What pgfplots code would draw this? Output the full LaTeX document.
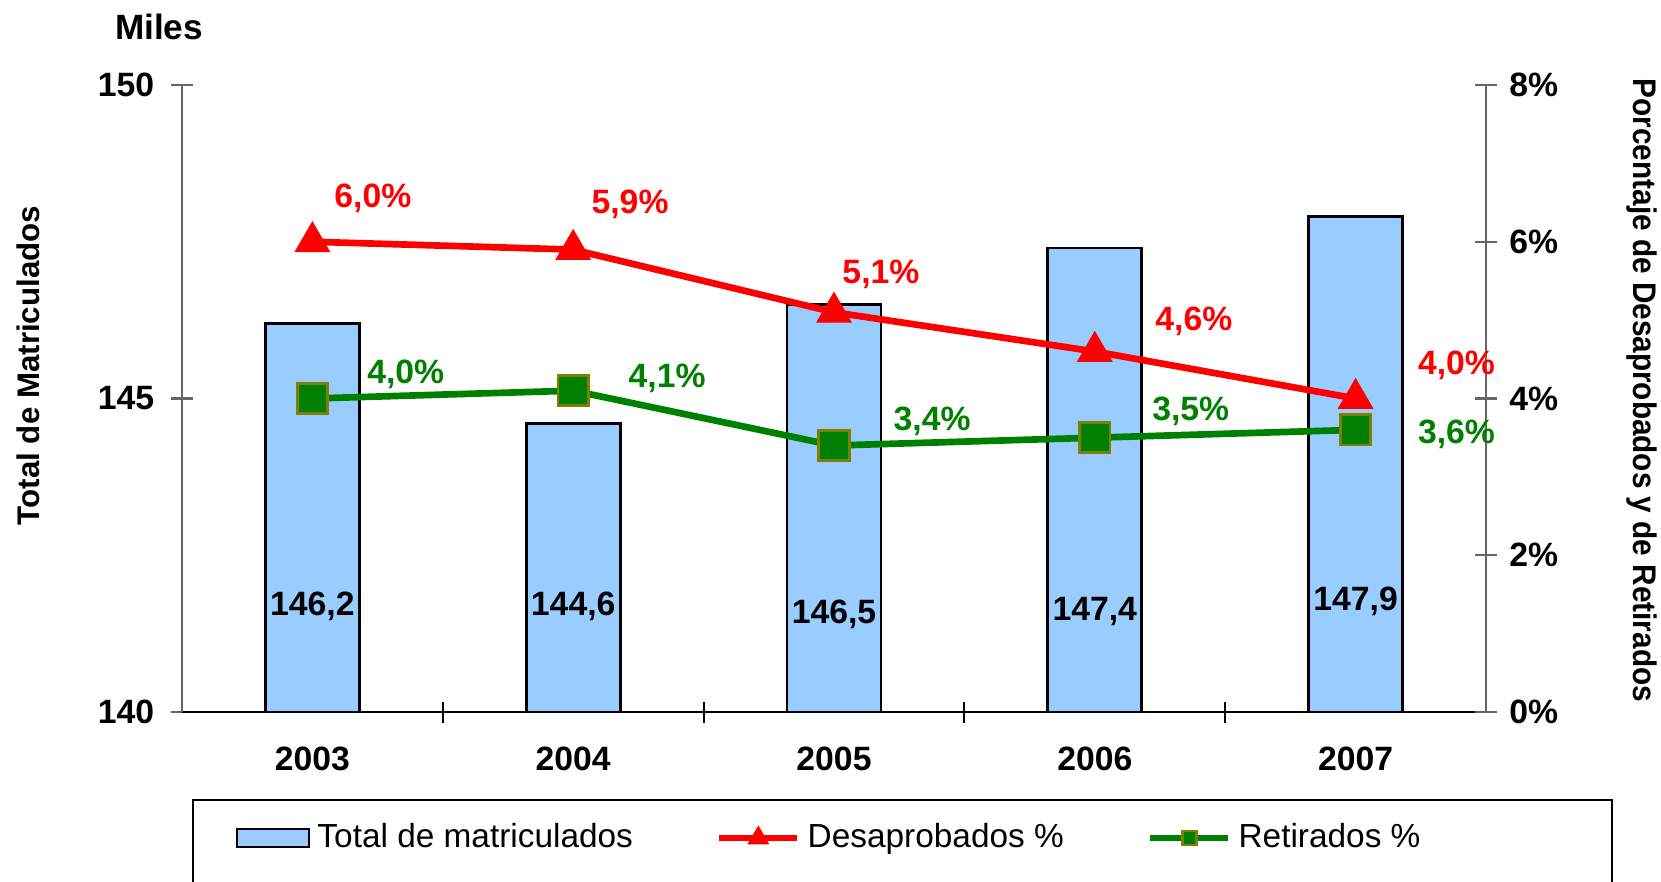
\documentclass[border=0pt]{standalone}
\usepackage{fontspec}
\setmainfont{Liberation Sans}
\usepackage{pgfplots}
\pgfplotsset{compat=1.18}
\definecolor{barblue}{HTML}{99CCFF}
\definecolor{desred}{HTML}{FF0000}
\definecolor{retgreen}{HTML}{008000}
\definecolor{retedge}{HTML}{808000}
\definecolor{axgray}{HTML}{666666}
\newcommand\lbl{\bfseries\fontsize{9.6}{11}\selectfont}
\pgfplotsset{
  linelegend/.style={legend image code/.code={\draw[##1, mark size=#1, mark repeat=2, mark phase=2] plot coordinates {(0mm,0mm) (3.9mm,0mm) (7.8mm,0mm)};}},
  barlegend/.style={legend image code/.code={\draw[fill=barblue, draw=black, line width=0.8pt] (0mm,-0.9mm) rectangle (7.2mm,0.9mm);}},
}

\begin{document}
\begin{tikzpicture}
% bars, left axis (miles)
\begin{axis}[
  width=130.4mm, height=62.7mm, scale only axis,
  xmin=-0.5, xmax=4.5, ymin=140, ymax=150,
  axis x line*=bottom, axis y line*=left, axis line style={-},
  x axis line style={draw=black, line width=0.8pt},
  y axis line style={draw=axgray, line width=0.6pt},
  tick align=center, major tick length=2.1mm,
  ytick={140,145,150}, yticklabels={140,145,150},
  ytick style={draw=axgray, line width=0.6pt},
  yticklabel style={xshift=-0.5mm},
  xtick={0.5,1.5,2.5,3.5}, xticklabels={},
  xtick style={draw=black, line width=0.6pt, yshift=1.05mm},
  extra x ticks={0,1,2,3,4},
  extra x tick labels={2003,2004,2005,2006,2007},
  extra x tick style={xtick style={draw=none}, xticklabel style={yshift=-0.2mm}},
  ticklabel style={font=\lbl},
  ybar, bar width=9.4mm, bar shift=0pt,
]
\addplot[fill=barblue, draw=black, line width=0.8pt] coordinates {(0,146.2) (1,144.6) (2,146.5) (3,147.4) (4,147.9)};
\end{axis}
% lines, right axis (percent)
\begin{axis}[
  width=130.4mm, height=62.7mm, scale only axis,
  xmin=-0.5, xmax=4.5, ymin=0, ymax=8,
  axis x line=none, axis y line*=right, axis line style={-},
  y axis line style={draw=axgray, line width=0.6pt},
  tick align=center, major tick length=2.2mm,
  ytick={0,2,4,6,8}, yticklabels={0\%,2\%,4\%,6\%,8\%},
  ytick style={draw=axgray, line width=0.6pt},
  ticklabel style={font=\lbl},
  clip=false,
  legend style={at={(0.0406,-0.201)}, anchor=west, draw=none, fill=none, inner sep=0pt,
    font=\fontsize{9.5}{11}\selectfont, legend columns=3,
    /tikz/every even column/.append style={column sep=7.6mm}},
  legend cell align=left,
]
\addlegendimage{barlegend}
\addlegendentry{Total de matriculados}
\addplot[desred, line width=1.9pt, mark=triangle*, mark size=5.6pt, mark options={solid, fill=desred, draw=desred, line width=0.3pt}, linelegend=3.3pt]
  coordinates {(0,6.0) (1,5.9) (2,5.1) (3,4.6) (4,4.0)};
\addlegendentry{Desaprobados \%}
\addplot[retgreen, line width=1.9pt, mark=square*, mark size=4.3pt, mark options={solid, fill=retgreen, draw=retedge, line width=0.8pt}, linelegend=2pt]
  coordinates {(0,4.0) (1,4.1) (2,3.4) (3,3.5) (4,3.6)};
\addlegendentry{Retirados \%}
% data labels
\begin{scope}[font=\lbl]
\node[desred] at (axis cs:0.232,6.56) {6,0\%};
\node[desred] at (axis cs:1.218,6.48) {5,9\%};
\node[desred] at (axis cs:2.180,5.59) {5,1\%};
\node[desred] at (axis cs:3.380,4.98) {4,6\%};
\node[desred] at (axis cs:4.387,4.42) {4,0\%};
\node[retgreen] at (axis cs:0.358,4.31) {4,0\%};
\node[retgreen] at (axis cs:1.360,4.26) {4,1\%};
\node[retgreen] at (axis cs:2.376,3.71) {3,4\%};
\node[retgreen] at (axis cs:3.368,3.83) {3,5\%};
\node[retgreen] at (axis cs:4.387,3.54) {3,6\%};
\node at (axis cs:0,1.352) {146,2};
\node at (axis cs:1,1.352) {144,6};
\node at (axis cs:2,1.248) {146,5};
\node at (axis cs:3,1.288) {147,4};
\node at (axis cs:4,1.408) {147,9};
\node[font=\bfseries\fontsize{10}{11}\selectfont] at (rel axis cs:-0.0176,1.0933) {Miles};
\end{scope}
\node[rotate=90, font=\bfseries\fontsize{8.9}{11}\selectfont] at (rel axis cs:-0.1176,0.5526) {Total de Matriculados};
\node[rotate=-90, font=\bfseries\fontsize{9.3}{11}\selectfont] at (rel axis cs:1.1196,0.513) {\scalebox{0.91}[1]{Porcentaje de Desaprobados y de Retirados}};
\draw[black, line width=0.6pt] (rel axis cs:0.00844,-0.1404) rectangle (rel axis cs:1.0966,-0.35);
\end{axis}
\pgfresetboundingbox
\path[use as bounding box] (-18.2mm,-16.9mm) rectangle (147.9mm,71.2mm);
\end{tikzpicture}
\end{document}
